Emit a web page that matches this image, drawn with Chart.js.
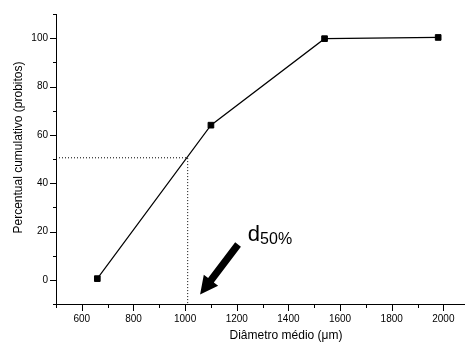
<!DOCTYPE html>
<html>
<head>
<meta charset="utf-8">
<script src="https://cdn.jsdelivr.net/npm/chart.js@4/dist/chart.umd.min.js"></script>
<style>
  body { margin:0; background:#fff; }
  canvas { display:block; }
</style>
</head>
<body>
<canvas id="chart" width="469" height="344"></canvas>
<script>
//=========================================
// Data
//=========================================
const diameters = [660, 1100, 1540, 1980];
const cumulative = [0.5, 64, 99.8, 100.3];

// d50 guide (dotted)
const guideX = [500, 1010, 1010];
const guideY = [50.5, 50.5, -10];

// arrow: tail -> tip, in data units
const arrowX = [1205, 1058];
const arrowY = [14.6, -6.1];

const xTickLabels = ["600","800","1000","1200","1400","1600","1800","2000"];
const yTickLabels = ["0","20","40","60","80","100"];

const xTitle = "Diâmetro médio (μm)";
const yTitle = "Percentual cumulativo (probitos)";

const FONT = "'Liberation Sans', Arial, sans-serif";

//------------------------------------
// Ticks, arrow and titles
//------------------------------------
const extras = {
  id: "extras",
  afterDraw(chart) {
    const ctx = chart.ctx;
    const xs = chart.scales.x;
    const ys = chart.scales.y;
    const area = chart.chartArea;

    ctx.save();
    ctx.strokeStyle = "#000";
    ctx.lineWidth = 1;

    // y ticks
    for (let v = -10; v <= 110; v += 10) {
      const py = Math.round(ys.getPixelForValue(v)) + 0.5;
      const len = yTickLabels.includes(String(v)) ? 6 : 3;
      ctx.beginPath();
      ctx.moveTo(area.left - len, py);
      ctx.lineTo(area.left, py);
      ctx.stroke();
    }

    // x ticks
    for (let v = 500; v <= 2000; v += 100) {
      const px = Math.round(xs.getPixelForValue(v)) + 0.5;
      const len = xTickLabels.includes(String(v)) ? 7 : 4;
      ctx.beginPath();
      ctx.moveTo(px, area.bottom);
      ctx.lineTo(px, area.bottom + len);
      ctx.stroke();
    }

    // arrow
    const tx = xs.getPixelForValue(arrowX[0]);
    const ty = ys.getPixelForValue(arrowY[0]);
    const hx = xs.getPixelForValue(arrowX[1]);
    const hy = ys.getPixelForValue(arrowY[1]);
    const dx = hx - tx, dy = hy - ty;
    const L = Math.sqrt(dx*dx + dy*dy);
    const ux = dx / L, uy = dy / L;
    const nx = -uy, ny = ux;
    const shaft = 3.6, head = 9, headLen = 18;
    const bx = hx - ux * headLen, by = hy - uy * headLen;
    ctx.fillStyle = "#000";
    ctx.beginPath();
    ctx.moveTo(tx + nx*shaft, ty + ny*shaft);
    ctx.lineTo(bx + nx*shaft, by + ny*shaft);
    ctx.lineTo(bx + nx*head, by + ny*head);
    ctx.lineTo(hx, hy);
    ctx.lineTo(bx - nx*head, by - ny*head);
    ctx.lineTo(bx - nx*shaft, by - ny*shaft);
    ctx.lineTo(tx - nx*shaft, ty - ny*shaft);
    ctx.closePath();
    ctx.fill();

    // d50% label
    const lx = xs.getPixelForValue(1243);
    const ly = ys.getPixelForValue(16.2);
    ctx.textBaseline = "alphabetic";
    ctx.textAlign = "left";
    ctx.font = "22px " + FONT;
    ctx.fillText("d", lx, ly);
    const dw = ctx.measureText("d").width;
    ctx.font = "16px " + FONT;
    ctx.fillText("50%", lx + dw, ly + 3.5);

    // axis titles
    ctx.font = "12px " + FONT;
    ctx.textAlign = "center";
    ctx.fillText(xTitle, 286, 339);

    ctx.translate(21.5, 147.5);
    ctx.rotate(-Math.PI / 2);
    ctx.fillText(yTitle, 0, 0);

    ctx.restore();
  }
};

//------------------------------------
// Chart
//------------------------------------
new Chart(document.getElementById("chart"), {
  type: "line",
  data: {
    datasets: [
      {
        label: "cumulativo",
        data: diameters.map((d, i) => ({ x: d, y: cumulative[i] })),
        borderColor: "#000",
        borderWidth: 1.2,
        backgroundColor: "#000",
        pointStyle: "rect",
        pointRadius: 4,
        pointBorderWidth: 1,
        pointBorderColor: "#000",
        pointBackgroundColor: "#000",
        tension: 0,
        fill: false,
        order: 1
      },
      {
        label: "d50",
        data: guideX.map((x, i) => ({ x: x, y: guideY[i] })),
        borderColor: "#000",
        borderWidth: 1,
        borderDash: [1, 2],
        pointRadius: 0,
        tension: 0,
        fill: false,
        order: 2
      }
    ]
  },
  options: {
    responsive: false,
    animation: false,
    devicePixelRatio: 1,
    layout: { padding: { top: 13, left: 0, right: 0, bottom: 0 } },
    plugins: {
      legend: { display: false },
      tooltip: { enabled: false }
    },
    scales: {
      x: {
        type: "linear",
        min: 500,
        max: 2080,
        grid: { drawOnChartArea: false, drawTicks: false },
        border: { display: true, color: "#000", width: 1 },
        afterBuildTicks: s => { s.ticks = xTickLabels.map(t => ({ value: Number(t) })); },
        ticks: {
          autoSkip: false,
          maxRotation: 0,
          padding: 9,
          color: "#000",
          font: { family: FONT, size: 10 },
          callback: v => String(v)
        },
        afterFit: s => { s.height = 40; }
      },
      y: {
        type: "linear",
        min: -10,
        max: 110,
        grid: { drawOnChartArea: false, drawTicks: false },
        border: { display: true, color: "#000", width: 1 },
        afterBuildTicks: s => { s.ticks = yTickLabels.map(t => ({ value: Number(t) })); },
        ticks: {
          autoSkip: false,
          padding: 8,
          color: "#000",
          font: { family: FONT, size: 10 },
          callback: v => String(v)
        },
        afterFit: s => { s.width = 56; }
      }
    }
  },
  plugins: [extras]
});
</script>
</body>
</html>
